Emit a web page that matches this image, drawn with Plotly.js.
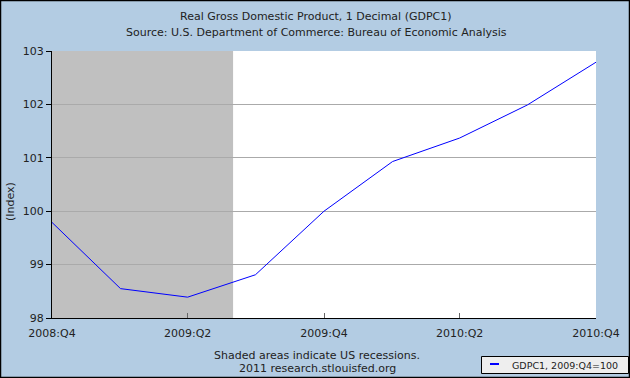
<!DOCTYPE html>
<html>
<head>
<meta charset="utf-8">
<script src="https://cdn.plot.ly/plotly-3.0.1.min.js"></script>
<style>
html,body{margin:0;padding:0;background:#b3cce3;}
#chart{width:630px;height:378px;}
</style>
</head>
<body>
<div id="chart"></div>
<script>
// Data (GDPC1, index 2009:Q4 = 100)
const quarterDates = ["2008-10-01","2009-01-01","2009-04-01","2009-07-01","2009-10-01","2010-01-01","2010-04-01","2010-07-01","2010-10-01"];
const gdpIndex = [99.79, 98.55, 98.39, 98.81, 100.0, 100.93, 101.37, 101.99, 102.79];
const tickDates = ["2008-10-01","2009-04-01","2009-10-01","2010-04-01","2010-10-01"];
const tickLabels = ["2008:Q4","2009:Q2","2009:Q4","2010:Q2","2010:Q4"];
const yTicks = [98, 99, 100, 101, 102, 103];
const seriesName = "GDPC1, 2009:Q4=100";
const recessionStart = "2008-10-01";
const recessionEnd = "2009-06-01";

const font = "DejaVu Sans, Verdana, sans-serif";
const L = 52, R = 34, T = 51, B = 60;
const PW = 630 - L - R, PH = 378 - T - B;
const px = v => (v - L) / PW;
const py = v => (378 - B - v) / PH;
const txt = {family: font, size: 11, color: "#222222"};
const lineColor = "#0000ff";

const trace = {
  x: quarterDates, y: gdpIndex, type: "scatter", mode: "lines",
  name: seriesName, showlegend: false,
  line: {color: lineColor, width: 1}
};

function note(text, x, y, extra) {
  return Object.assign({text: text, xref: "paper", yref: "paper", x: px(x), y: py(y),
    showarrow: false, xanchor: "center", yanchor: "middle", font: txt}, extra || {});
}

const layout = {
  width: 630, height: 378,
  margin: {l: L, r: R, t: T, b: B, pad: 0, autoexpand: false},
  paper_bgcolor: "#b3cce3",
  plot_bgcolor: "#ffffff",
  font: txt,
  showlegend: false,
  xaxis: {
    type: "date",
    range: [quarterDates[0], quarterDates[quarterDates.length - 1]],
    tickmode: "array", tickvals: tickDates, ticktext: tickLabels,
    ticks: "inside", ticklen: 5, tickcolor: "#666666",
    ticklabelstandoff: 5,
    showgrid: false, zeroline: false,
    showline: true, linecolor: "#000000", linewidth: 1,
    tickfont: txt
  },
  yaxis: {
    range: [98, 103],
    tickmode: "array", tickvals: yTicks,
    ticks: "outside", ticklen: 5, tickcolor: "#000000",
    showgrid: true, gridcolor: "#aaaaaa", gridwidth: 1,
    zeroline: false,
    showline: true, linecolor: "#000000", linewidth: 1,
    tickfont: txt
  },
  shapes: [
    {type: "rect", xref: "x", yref: "paper", x0: recessionStart, x1: recessionEnd, y0: 0, y1: 1,
     fillcolor: "#c0c0c0", line: {width: 0}, layer: "between"},
    // legend box
    {type: "rect", xref: "paper", yref: "paper",
     x0: px(481.5), x1: px(628.5), y0: py(373.5), y1: py(356.5),
     fillcolor: "#eeeeee", line: {color: "#000000", width: 1}, layer: "above"},
    {type: "line", xref: "paper", yref: "paper",
     x0: px(490), x1: px(499), y0: py(364), y1: py(364),
     line: {color: lineColor, width: 2}, layer: "above"},
    // outer frame
    {type: "rect", xref: "paper", yref: "paper",
     x0: px(0.5), x1: px(629.5), y0: py(377.5), y1: py(0.5),
     line: {color: "#000000", width: 1.5}, fillcolor: "rgba(0,0,0,0)", layer: "above"}
  ],
  annotations: [
    note("Real Gross Domestic Product, 1 Decimal (GDPC1)", 316, 17),
    note("Source: U.S. Department of Commerce: Bureau of Economic Analysis", 316, 32),
    note("(Index)", 10, 202, {textangle: -90}),
    note("Shaded areas indicate US recessions.", 317, 355),
    note("2011 research.stlouisfed.org", 317, 368),
    note(seriesName, 510, 365, {xanchor: "left", font: {family: font, size: 9.5, color: "#222222"}})
  ]
};

Plotly.newPlot("chart", [trace], layout, {displayModeBar: false, staticPlot: true});
</script>
</body>
</html>
